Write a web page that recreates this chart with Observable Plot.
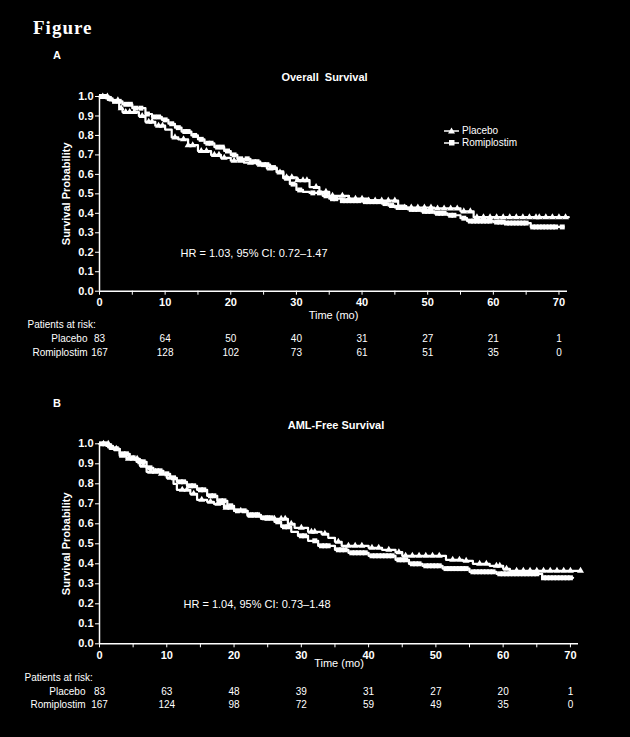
<!DOCTYPE html>
<html><head><meta charset="utf-8">
<script src="https://cdn.jsdelivr.net/npm/d3@7"></script>
<script src="https://cdn.jsdelivr.net/npm/@observablehq/plot@0.6"></script>
<style>
body{margin:0;background:#000;width:630px;height:737px;overflow:hidden;position:relative;font-family:"Liberation Sans",Arial,sans-serif;color:#fff}
.abs{position:absolute;white-space:nowrap}
.leg{position:absolute;font-size:10px;line-height:12px;white-space:nowrap}
</style></head><body>
<div id="pa" class="abs" style="left:0;top:60px"></div>
<div id="pb" class="abs" style="left:0;top:405px"></div>
<div class="abs" style="left:33px;top:17px;font:bold 19px 'Liberation Serif',serif;letter-spacing:1px">Figure</div>
<div class="abs" style="left:53px;top:49px;font:bold 11px 'Liberation Sans',sans-serif">A</div>
<div class="abs" style="left:53px;top:397px;font:bold 11px 'Liberation Sans',sans-serif">B</div>
<div class="leg" style="left:443px;top:125px">
  <svg width="18" height="12" style="vertical-align:top"><line x1="1" x2="16" y1="6" y2="6" stroke="#fff" stroke-width="1.5"/><path d="M8.5,2.5 L12,8.5 L5,8.5Z" fill="#fff"/></svg><span style="margin-left:1px">Placebo</span>
</div>
<div class="leg" style="left:443px;top:137px">
  <svg width="18" height="12" style="vertical-align:top"><line x1="1" x2="16" y1="6" y2="6" stroke="#fff" stroke-width="1.5"/><rect x="6" y="3" width="5.5" height="5.5" fill="#fff"/></svg><span style="margin-left:1px">Romiplostim</span>
</div>
<script>
// ---------- data ----------
const timeTicks = [0, 10, 20, 30, 40, 50, 60, 70];

// Panel A: Overall survival (step curves)
const osPlaceboT = [0, 1.5, 3, 3.5, 6, 7, 8.5, 10, 11, 12, 13.5, 15, 17, 18.5, 20, 22, 24, 25.5, 27, 28, 30, 32, 33.5, 35, 38, 41, 45.5, 46.5, 51, 55, 57, 71.5];
const osPlaceboS = [1, 0.98, 0.94, 0.92, 0.9, 0.87, 0.85, 0.83, 0.79, 0.78, 0.75, 0.72, 0.7, 0.685, 0.67, 0.66, 0.65, 0.63, 0.61, 0.585, 0.57, 0.535, 0.51, 0.49, 0.475, 0.465, 0.44, 0.43, 0.425, 0.41, 0.38, 0.38];
const osRomiT = [0, 1, 2, 3.5, 5, 7, 8, 9.5, 10.5, 11.5, 12.5, 14, 15, 16, 17.5, 19, 20, 21, 23, 24.5, 26, 27, 28, 29, 30, 31, 32, 34, 35, 37, 40, 43, 44, 45, 47, 49, 51, 53, 55, 56, 60, 62, 65.7, 70.7];
const osRomiS = [1, 0.99, 0.975, 0.96, 0.94, 0.91, 0.895, 0.88, 0.86, 0.84, 0.82, 0.8, 0.78, 0.76, 0.74, 0.72, 0.7, 0.68, 0.665, 0.65, 0.635, 0.615, 0.58, 0.55, 0.52, 0.51, 0.505, 0.49, 0.475, 0.465, 0.46, 0.45, 0.44, 0.43, 0.42, 0.41, 0.4, 0.39, 0.375, 0.36, 0.355, 0.35, 0.33, 0.33];
const osPlaceboCensor = [0.5, 1.2, 2.8, 3.3, 4, 4.6, 5.3, 6.5, 7.5, 8, 9, 9.6, 11.5, 12.8, 13.5, 14.2, 15.5, 16.3, 17.5, 18.2, 19, 20.5, 21.5, 23, 24.5, 26, 27.5, 28.5, 29.3, 30.2, 31, 31.6, 33, 34.5, 35.5, 37, 38, 39, 40, 41, 42, 43, 44, 45, 46.5, 47.5, 48.5, 49.5, 50.5, 51.5, 52.5, 53.5, 54.5, 55.5, 56.5, 57.5, 58.5, 59.5, 60.5, 61.5, 62.5, 63.5, 64.5, 65.5, 66.5, 67, 68, 69, 70, 71];
const osRomiCensor = [0.3, 0.8, 1.5, 2.3, 3, 4, 4.7, 5.5, 6.3, 7.3, 8.3, 9, 10, 11, 12, 13, 13.5, 14.5, 15.5, 16.5, 17, 18, 18.7, 19.5, 20.5, 21.5, 22.5, 23.5, 24, 25, 25.5, 26.5, 28.5, 29.5, 30.5, 32.5, 33.5, 34.5, 35.5, 36, 37, 37.5, 38, 38.5, 39, 39.5, 40.5, 41, 41.5, 42, 42.5, 43.5, 44.5, 45.5, 46, 46.5, 47.5, 48, 48.5, 49.5, 50, 50.5, 51.5, 52, 52.5, 53.5, 54, 55.5, 56.5, 57, 57.5, 58, 58.5, 59, 59.5, 60.5, 61, 61.5, 62, 62.5, 63, 63.5, 64, 64.5, 65, 66, 66.5, 67, 67.5, 68, 68.5, 69, 69.5, 70.5];
const osRiskPlacebo = [83, 64, 50, 40, 31, 27, 21, 1];
const osRiskRomi = [167, 128, 102, 73, 61, 51, 35, 0];

// Panel B: AML-free survival
const afsPlaceboT = [0, 1.5, 3, 4, 6, 7, 9, 10, 11, 11.5, 13.5, 14.5, 16, 17, 18.5, 20, 22, 24, 28, 29, 31, 33, 34, 35, 36, 40, 42, 44, 45, 51.5, 54, 55.5, 58, 60, 61, 71.5];
const afsPlaceboS = [1, 0.975, 0.94, 0.925, 0.89, 0.86, 0.85, 0.83, 0.8, 0.77, 0.75, 0.72, 0.71, 0.7, 0.68, 0.665, 0.64, 0.625, 0.6, 0.58, 0.56, 0.55, 0.53, 0.51, 0.49, 0.48, 0.47, 0.458, 0.44, 0.42, 0.415, 0.4, 0.39, 0.375, 0.365, 0.365];
const afsRomiT = [0, 1, 2, 3, 4.5, 5.5, 7, 8, 9.5, 10.5, 11.5, 13, 14.5, 16, 17.5, 19, 20, 22, 24, 26, 27, 28.5, 29.5, 31, 32.5, 35, 37, 40, 44, 46, 48, 51, 55, 59, 65.8, 70.4];
const afsRomiS = [1, 0.99, 0.975, 0.95, 0.93, 0.91, 0.88, 0.865, 0.85, 0.83, 0.81, 0.79, 0.77, 0.74, 0.715, 0.69, 0.665, 0.645, 0.63, 0.61, 0.585, 0.56, 0.54, 0.515, 0.49, 0.47, 0.455, 0.44, 0.42, 0.4, 0.39, 0.376, 0.36, 0.35, 0.33, 0.33];
const afsPlaceboCensor = [0.6, 1.3, 2.5, 3.4, 4.3, 5, 5.6, 6.5, 7.6, 8.3, 9.2, 10.5, 12.3, 13, 14, 15.2, 16.5, 17.6, 18.8, 19.5, 21, 22.5, 23.5, 25, 26, 27, 27.6, 28.5, 30, 31.5, 32, 33.5, 35.5, 37, 38, 39, 40.5, 41.5, 43, 44.5, 45.5, 46.5, 47.5, 48.5, 49.5, 50.5, 52.5, 53.5, 54.5, 56.5, 57.5, 59, 59.5, 60.5, 62, 63, 64, 65, 66, 67, 68, 69, 70, 71.5];
const afsRomiCensor = [0.3, 0.8, 1.5, 2.5, 3.5, 4, 5, 6, 6.5, 7.5, 8.5, 9, 10, 11, 12, 12.5, 13.5, 14, 15, 15.5, 16.5, 17, 18, 18.5, 19.5, 20.5, 21.5, 22.5, 23, 23.5, 24.5, 25, 25.5, 26.5, 27.5, 28, 30, 30.5, 32, 33, 33.5, 34, 35.5, 36, 36.5, 37.5, 38, 38.5, 39, 39.5, 40.5, 41, 41.5, 42, 42.5, 43, 43.5, 44.5, 45, 45.5, 46.5, 47, 47.5, 48.5, 49, 49.5, 50, 50.5, 51.5, 52, 52.5, 53, 53.5, 54, 54.5, 55.5, 56, 56.5, 57, 57.5, 58, 58.5, 59.5, 60, 60.5, 61, 61.5, 62, 62.5, 63, 63.5, 64, 64.5, 65, 66, 66.5, 67, 67.5, 68, 68.5, 69, 69.5, 70];
const afsRiskPlacebo = [83, 63, 48, 39, 31, 27, 20, 1];
const afsRiskRomi = [167, 124, 98, 72, 59, 49, 35, 0];

// ---------- helpers ----------
function curve(T, S) { return T.map((t, i) => ({t, s: S[i]})); }
function stepAt(T, S, t) { let k = 0; for (let i = 0; i < T.length; i++) if (T[i] <= t) k = i; return S[k]; }
function censor(T, S, C) { return C.map(t => ({t, s: stepAt(T, S, t)})); }
const FONT = "'Liberation Sans Narrow','Liberation Sans',Arial,sans-serif";
const SANS = "'Liberation Sans',Arial,sans-serif";

function panel(o) {
  const rowP = timeTicks.map((t, i) => ({t, n: o.riskP[i]}));
  const rowR = timeTicks.map((t, i) => ({t, n: o.riskR[i]}));
  return Plot.plot({
    width: 630, height: o.height,
    marginLeft: 99, marginRight: o.marginRight, marginTop: o.marginTop, marginBottom: o.marginBottom,
    style: {background: "#000", color: "#fff", fontFamily: FONT, fontSize: "10px", overflow: "visible"},
    x: {domain: [0, o.xmax]},
    y: {domain: [0, 1]},
    marks: [
      Plot.axisX({ticks: d3.range(0, 75, 5), tickFormat: d => d % 10 === 0 ? String(d) : "", tickSize: 4, tickPadding: 3, label: null, fontWeight: "bold", fontSize: 11, stroke: "#fff"}),
      Plot.axisY({ticks: d3.range(0, 11).map(i => i / 10), tickFormat: d3.format(".1f"), tickSize: 4, tickPadding: 2, label: null, fontWeight: "bold", fontSize: 11, stroke: "#fff"}),
      Plot.ruleX([0], {stroke: "#fff", strokeWidth: 1.5}),
      Plot.ruleY([0], {stroke: "#fff", strokeWidth: 1.5}),
      Plot.line(curve(o.pT, o.pS), {x: "t", y: "s", curve: "step-after", stroke: "#fff", strokeWidth: 2.2}),
      Plot.line(curve(o.rT, o.rS), {x: "t", y: "s", curve: "step-after", stroke: "#fff", strokeWidth: 2.2}),
      Plot.dot(censor(o.pT, o.pS, o.pC), {x: "t", y: "s", symbol: "triangle", r: 2.6, fill: "#fff", stroke: "none"}),
      Plot.dot(censor(o.rT, o.rS, o.rC), {x: "t", y: "s", symbol: "square", r: 2.8, fill: "#fff", stroke: "none"}),
      Plot.text([o.title], {frameAnchor: "top", dx: o.titleDx, dy: -23, fontWeight: "bold", fontSize: 11, fill: "#fff", fontFamily: SANS}),
      Plot.text(["Survival Probability"], {frameAnchor: "left", dx: -33, rotate: -90, textAnchor: "middle", lineAnchor: "middle", fontWeight: "bold", fontSize: 11, fill: "#fff", fontFamily: SANS}),
      Plot.text([o.hr], {frameAnchor: "top-left", dx: o.hrDx, dy: o.hrDy, textAnchor: "start", lineAnchor: "middle", fontSize: 11, fill: "#fff"}),
      Plot.text(["Time (mo)"], {frameAnchor: "bottom", dy: o.timeDy, lineAnchor: "middle", fontSize: 11, fill: "#fff"}),
      Plot.text(["Patients at risk:"], {frameAnchor: "bottom-left", dx: o.parDx, dy: o.rowDy[0], textAnchor: "start", lineAnchor: "middle", fontSize: 10, fill: "#fff"}),
      Plot.text(["Placebo"], {frameAnchor: "bottom-left", dx: o.labDx[0], dy: o.rowDy[1], textAnchor: "end", lineAnchor: "middle", fontSize: 10, fill: "#fff"}),
      Plot.text(["Romiplostim"], {frameAnchor: "bottom-left", dx: o.labDx[1], dy: o.rowDy[2], textAnchor: "end", lineAnchor: "middle", fontSize: 10, fill: "#fff"}),
      Plot.text(rowP, {x: "t", frameAnchor: "bottom", dy: o.rowDy[1], text: "n", lineAnchor: "middle", fontSize: 10, fill: "#fff"}),
      Plot.text(rowR, {x: "t", frameAnchor: "bottom", dy: o.rowDy[2], text: "n", lineAnchor: "middle", fontSize: 10, fill: "#fff"})
    ]
  });
}

document.getElementById("pa").append(panel({
  height: 310, marginTop: 36, marginBottom: 79.3, marginRight: 63, xmax: 71.3,
  pT: osPlaceboT, pS: osPlaceboS, pC: osPlaceboCensor,
  rT: osRomiT, rS: osRomiS, rC: osRomiCensor,
  riskP: osRiskPlacebo, riskR: osRiskRomi,
  title: "Overall  Survival", titleDx: -9,
  hr: "HR = 1.03, 95% CI: 0.72–1.47", hrDx: 81, hrDy: 157,
  timeDy: 24, rowDy: [34, 48, 62], parDx: -72, labDx: [-12, -12]
}));
document.getElementById("pb").append(panel({
  height: 332, marginTop: 38.3, marginBottom: 93.7, marginRight: 52, xmax: 71.2,
  pT: afsPlaceboT, pS: afsPlaceboS, pC: afsPlaceboCensor,
  rT: afsRomiT, rS: afsRomiS, rC: afsRomiCensor,
  riskP: afsRiskPlacebo, riskR: afsRiskRomi,
  title: "AML-Free Survival", titleDx: -3,
  hr: "HR = 1.04, 95% CI: 0.73–1.48", hrDx: 84, hrDy: 161,
  timeDy: 20, rowDy: [34, 48, 61], parDx: -75, labDx: [-14, -14]
}));
</script>
</body></html>
